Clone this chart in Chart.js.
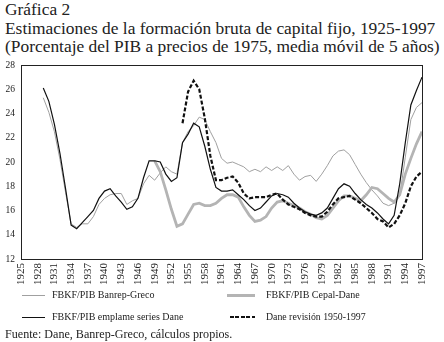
<!DOCTYPE html>
<html>
<head>
<meta charset="utf-8">
<script src="https://cdn.jsdelivr.net/npm/chart.js@4"></script>
<style>
  body { margin: 0; width: 444px; height: 342px; background: #fff; position: relative; overflow: hidden;
         font-family: "Liberation Serif", "DejaVu Serif", serif; color: #222; }
  #titulo { position: absolute; left: 5px; top: 0; font-size: 17.4px; line-height: 18.7px; white-space: nowrap; }
  #grafico { position: absolute; left: 0; top: 0; }
  .muestra { position: absolute; height: 0; }
  .etiqueta { position: absolute; font-size: 10px; line-height: 12px; white-space: nowrap; }
  #fuente { position: absolute; left: 5px; top: 327px; font-size: 12.1px; line-height: 14px; white-space: nowrap; }
</style>
</head>
<body>
<div id="titulo">Gráfica 2<br>Estimaciones de la formación bruta de capital fijo, 1925-1997<br>(Porcentaje del PIB a precios de 1975, media móvil de 5 años)</div>
<canvas id="grafico" width="444" height="342"></canvas>

<div class="muestra" style="left:22px; top:295px; width:23px; border-top:1px solid #a0a0a0;"></div>
<div class="etiqueta" style="left:52px; top:289px;">FBKF/PIB Banrep-Greco</div>
<div class="muestra" style="left:22px; top:317px; width:23px; border-top:1px solid #111;"></div>
<div class="etiqueta" style="left:52px; top:311px;">FBKF/PIB emplame series Dane</div>
<div class="muestra" style="left:227px; top:294px; width:28px; border-top:3px solid #b4b4b4;"></div>
<div class="etiqueta" style="left:266px; top:289px;">FBKF/PIB Cepal-Dane</div>
<div class="muestra" style="left:230px; top:316px; width:25px; height:2px; background:repeating-linear-gradient(to right, #111 0 4px, transparent 4px 5.5px);"></div>
<div class="etiqueta" style="left:266px; top:311px; font-size:9.8px;">Dane revisión 1950-1997</div>

<div id="fuente">Fuente: Dane, Banrep-Greco, cálculos propios.</div>

<script>
// años 1925-1997, etiqueta cada 3 años
var firstYear = 1925;
var lastYear = 1997;
var labelStep = 3;

// FBKF/PIB Banrep-Greco, desde 1929
var banrepStart = 1929;
var banrepGreco = [
  25.3, 24.1, 22.5, 20.2, 17.5, 14.9, 14.6, 14.9, 14.9, 15.5,
  16.5, 17.0, 17.3, 17.4, 17.4, 16.5, 16.8, 17.0, 18.2, 18.9,
  18.5, 19.1, 19.6, 19.2, 19.0, 21.6, 22.5, 23.0, 23.7, 23.5,
  22.5, 21.6, 20.3, 19.9, 20.0, 19.8, 19.6, 19.2, 19.4, 19.2,
  19.6, 19.3, 19.6, 19.3, 19.7, 19.0, 18.5, 18.8, 18.9, 18.4,
  19.0, 19.7, 20.5, 20.9, 21.0, 20.6, 19.8, 19.0, 18.3, 17.7,
  17.2, 16.6, 16.4, 16.6, 17.2, 20.4, 23.5, 24.5, 24.9
];

// FBKF/PIB Cepal-Dane, desde 1949
var cepalStart = 1949;
var cepalDane = [
  20.1, 19.2, 17.7, 16.1, 14.7, 14.9, 15.7, 16.5, 16.6, 16.4,
  16.4, 16.6, 17.0, 17.3, 17.3, 17.1, 16.3, 15.6, 15.1, 15.2,
  15.5, 16.2, 16.7, 16.8, 16.6, 16.4, 16.2, 15.9, 15.7, 15.4,
  15.3, 15.6, 16.2, 16.8, 17.2, 17.2, 17.0, 16.8, 17.3, 17.9,
  17.8, 17.4, 17.0, 16.7, 17.3, 19.0, 20.3, 21.5, 22.5
];

// FBKF/PIB empalme series Dane, desde 1929
var empalmeStart = 1929;
var empalmeDane = [
  26.1, 25.0, 23.1, 20.7, 17.8, 14.8, 14.5, 15.0, 15.5, 16.0,
  17.0, 17.6, 17.8, 17.2, 16.7, 16.1, 16.3, 17.0, 18.7, 20.1,
  20.1, 20.0, 19.0, 18.4, 18.7, 21.6, 22.3, 23.2, 22.9, 21.3,
  19.4, 17.9, 17.6, 17.6, 17.7, 17.3, 16.9, 16.4, 16.0, 16.2,
  16.7, 17.2, 17.4, 17.3, 17.1, 16.6, 16.2, 15.9, 15.7, 15.6,
  15.8, 16.2, 17.0, 17.8, 18.2, 18.0, 17.4, 16.9, 16.5, 16.2,
  15.8, 15.3, 14.9, 15.6, 18.2, 21.6, 24.7, 25.9, 27.0
];

// Dane revisión 1950-1997, desde 1954
var revisionStart = 1954;
var daneRevision = [
  23.2, 25.8, 26.7, 26.0, 23.6, 20.5, 18.5, 18.5, 18.7, 18.8,
  18.3, 17.4, 17.0, 17.1, 17.1, 17.1, 17.3, 17.4, 16.9, 16.5,
  16.3, 16.1, 15.8, 15.6, 15.5, 15.5, 15.9, 16.5, 17.0, 17.1,
  17.2, 16.9, 16.6, 16.2, 15.8, 15.3, 15.1, 14.6, 14.9, 15.6,
  16.6, 18.0, 18.8, 19.2
];

var years = [];
for (var y = firstYear; y <= lastYear; y++) years.push(String(y));

// rellena con null los años sin dato
function serie(start, values) {
  var out = [];
  for (var i = 0; i < years.length; i++) {
    var j = firstYear + i - start;
    out.push(j >= 0 && j < values.length ? values[j] : null);
  }
  return out;
}

var serif = '"Liberation Serif", "DejaVu Serif", serif';

// marco completo alrededor del área de trazado
var marco = {
  id: 'marco',
  afterDraw: function(chart) {
    var a = chart.chartArea, c = chart.ctx;
    c.save();
    c.strokeStyle = '#222';
    c.lineWidth = 1;
    c.strokeRect(Math.round(a.left) + 0.5, Math.round(a.top) + 0.5,
                 Math.round(a.right - a.left), Math.round(a.bottom - a.top));
    c.restore();
  }
};

var ctx = document.getElementById('grafico').getContext('2d');
var myChart = new Chart(ctx, {
  type: 'line',
  data: {
    labels: years,
    datasets: [{
      label: 'Dane revisión 1950-1997',
      data: serie(revisionStart, daneRevision),
      borderColor: '#111',
      borderWidth: 2.2,
      borderDash: [4, 2],
      order: 1
    }, {
      label: 'FBKF/PIB emplame series Dane',
      data: serie(empalmeStart, empalmeDane),
      borderColor: '#111',
      borderWidth: 1.2,
      order: 2
    }, {
      label: 'FBKF/PIB Cepal-Dane',
      data: serie(cepalStart, cepalDane),
      borderColor: '#b4b4b4',
      borderWidth: 2.8,
      order: 3
    }, {
      label: 'FBKF/PIB Banrep-Greco',
      data: serie(banrepStart, banrepGreco),
      borderColor: '#a0a0a0',
      borderWidth: 1,
      order: 4
    }]
  },
  options: {
    responsive: false,
    animation: false,
    devicePixelRatio: 1,
    elements: { point: { radius: 0 }, line: { tension: 0 } },
    layout: { padding: { top: 65, right: 22, left: 0, bottom: 0 } },
    plugins: { legend: { display: false }, tooltip: { enabled: false } },
    scales: {
      x: {
        offset: false,
        grid: { display: false, drawTicks: false },
        border: { display: false },
        afterFit: function(s) { s.height = 83; },
        ticks: {
          autoSkip: false,
          minRotation: 90,
          maxRotation: 90,
          padding: 4,
          color: '#222',
          font: { family: serif, size: 11 },
          callback: function(v, i) { return i % labelStep === 0 ? years[i] : ''; }
        }
      },
      y: {
        min: 12,
        max: 28,
        grid: { display: false, drawTicks: false },
        border: { display: false },
        afterFit: function(s) { s.width = 21; },
        ticks: {
          stepSize: 2,
          padding: 6,
          color: '#222',
          font: { family: serif, size: 9.5 }
        }
      }
    }
  },
  plugins: [marco]
});
</script>
</body>
</html>
